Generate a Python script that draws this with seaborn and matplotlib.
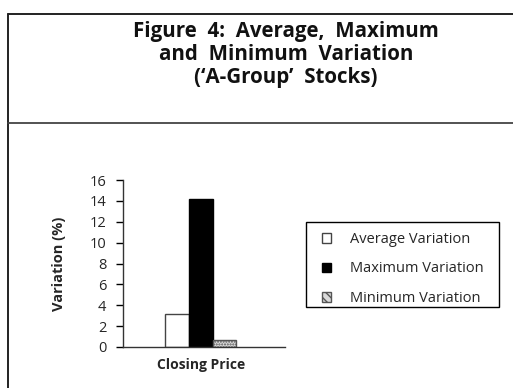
import matplotlib
matplotlib.use("Agg")
import matplotlib.pyplot as plt
from matplotlib.lines import Line2D
from matplotlib.patches import Patch, Rectangle
import seaborn as sns
import pandas as pd

# Data
categories = ["Closing Price"]
series = ["Average Variation", "Maximum Variation", "Minimum Variation"]
values = [3.2, 14.2, 0.7]
y_ticks = [0, 2, 4, 6, 8, 10, 12, 14, 16]

df = pd.DataFrame({
    "category": categories * len(series),
    "series": series,
    "value": values,
})

sns.set_theme(style="white")
plt.rcParams["font.family"] = ["Open Sans", "DejaVu Sans"]

W, H = 513, 388
fig = plt.figure(figsize=(W / 100, H / 100), dpi=100)
fig.patch.set_facecolor("white")

ax = fig.add_axes([123 / W, 1 - 347 / H, (285 - 123) / W, (347 - 180) / H])

fills = ["white", "black", "#d9d9d9"]
edges = ["#444444", "black", "#555555"]
sns.barplot(data=df, x="category", y="value", hue="series", hue_order=series,
            palette=fills, width=0.44, ax=ax, legend=False, saturation=1)

for bar, ec in zip(ax.patches, edges):
    bar.set_edgecolor(ec)
    bar.set_linewidth(1.0)
ax.patches[2].set_hatch("......")

ax.set_ylim(0, 16)
ax.set_xlim(-0.48, 0.52)
ax.set_yticks(y_ticks)
ax.set_yticklabels([str(t) for t in y_ticks], fontsize=10.5)
ax.set_xticklabels(categories, fontsize=10, fontweight="bold")
ax.tick_params(axis="y", which="both", left=True, length=5, width=1, color="black", pad=7)
ax.tick_params(axis="x", length=0, pad=8)
ax.set_xlabel("")
ax.set_ylabel("Variation (%)", fontsize=10.5, fontweight="bold", labelpad=17)
for side in ["top", "right"]:
    ax.spines[side].set_visible(False)
for side in ["left", "bottom"]:
    ax.spines[side].set_color("#333333")
    ax.spines[side].set_linewidth(1.0)
ax.set_facecolor("white")

# Legend entries, with a fixed box drawn around them
handles = [Patch(facecolor=f, edgecolor=e, linewidth=1.0) for f, e in zip(fills, edges)]
handles[2].set_hatch("\\\\\\\\")
leg = fig.legend(handles, series, loc="center left",
                 bbox_to_anchor=(322 / W, 1 - 269 / H), fontsize=10.5,
                 frameon=False, handlelength=0.65, handleheight=0.65,
                 handletextpad=1.3, labelspacing=1.0, borderpad=0,
                 borderaxespad=0)
fig.add_artist(Rectangle((306 / W, 1 - 307 / H), (499 - 306) / W, (307 - 222) / H,
                         transform=fig.transFigure, facecolor="none",
                         edgecolor="black", linewidth=1.0))

# Title
title_lines = ["Figure  4:  Average,  Maximum", "and  Minimum  Variation",
               "(\u2018A-Group\u2019  Stocks)"]
for line, yp in zip(title_lines, [31, 54, 78]):
    fig.text(286 / W, 1 - yp / H, line, ha="center", va="center",
             fontsize=14.8, fontweight="bold", color="#111111")

# Outer frame and title separator
frame_kw = dict(transform=fig.transFigure, color="#222222", linewidth=1.4)
fig.add_artist(Line2D([8 / W, 8 / W], [0, 1 - 14 / H], **frame_kw))
fig.add_artist(Line2D([8 / W, 1], [1 - 14 / H, 1 - 14 / H], **frame_kw))
fig.add_artist(Line2D([8 / W, 1], [1 - 123 / H, 1 - 123 / H], color="#444444",
                      linewidth=1.3, transform=fig.transFigure))

fig.savefig("out.png", dpi=100)
